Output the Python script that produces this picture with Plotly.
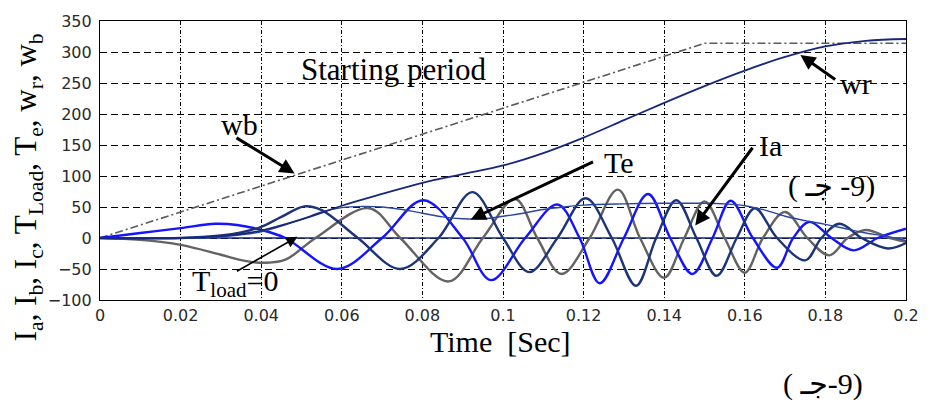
import plotly.graph_objects as go

# ---------------- data ----------------
x_ticks = [0, 0.02, 0.04, 0.06, 0.08, 0.1, 0.12, 0.14, 0.16, 0.18, 0.2]
x_tick_labels = ["0", "0.02", "0.04", "0.06", "0.08", "0.1", "0.12", "0.14", "0.16", "0.18", "0.2"]
y_ticks = [-100, -50, 0, 50, 100, 150, 200, 250, 300, 350]

# wb (reference speed, dash-dot gray)
wb_t = [0, 0.15, 0.2]
wb_v = [0, 314, 314]

# wr (rotor speed)
wr_t = [0, 0.02, 0.03, 0.04, 0.05, 0.06, 0.07, 0.08, 0.09, 0.1, 0.11, 0.12, 0.13,
        0.14, 0.15, 0.16, 0.17, 0.18, 0.19, 0.2]
wr_v = [0, 0, 3, 12, 30, 52, 71, 89, 103, 117, 137, 162, 190,
        218, 245, 270, 292, 309, 318, 321]

# Te (electromagnetic torque)
te_t = [0, 0.025, 0.03, 0.04, 0.05, 0.055, 0.06, 0.065, 0.07, 0.075, 0.08, 0.085,
        0.09, 0.095, 0.1, 0.105, 0.11, 0.115, 0.12, 0.13, 0.14, 0.15, 0.155, 0.16,
        0.165, 0.17, 0.175, 0.18, 0.185, 0.19, 0.195, 0.2]
te_v = [0, 0, 2, 10, 30, 42, 49, 51, 50, 46, 40, 34,
        31, 31, 35, 40, 46, 50, 53, 55, 56, 56, 55, 52,
        45, 35, 28, 22, 15, 8, 3, -4]

# Ia (bright blue)
ia_t = [0, 0.01, 0.02, 0.0286, 0.034, 0.04, 0.046, 0.0589, 0.07, 0.0802, 0.09, 0.097,
        0.1055, 0.1135, 0.119, 0.124, 0.13, 0.136, 0.1415, 0.147, 0.152, 0.1565,
        0.162, 0.168, 0.172, 0.176, 0.1815, 0.187, 0.193, 0.2]
ia_v = [0, 8, 16, 23, 21, 13, 0, -50, 0, 61, 0, -68,
        0, 54, 0, -73, 0, 71, 0, -58, 0, 60,
        0, -48, 0, 26, 0, -20, 0, 15]

# Ib (gray)
ib_t = [0, 0.01, 0.02, 0.03, 0.036, 0.041, 0.046, 0.0535, 0.0667, 0.0745, 0.0865,
        0.095, 0.103, 0.1085, 0.1145, 0.1215, 0.1285, 0.134, 0.14, 0.145, 0.15,
        0.155, 0.16, 0.1645, 0.17, 0.1755, 0.181, 0.1855, 0.19, 0.196, 0.2]
ib_v = [0, -3, -11, -27, -37, -40, -35, 0, 48, 0, -70,
        0, 63, 0, -58, 0, 78, 0, -64, 0, 59,
        0, -56, 0, 42, 0, -28, 0, 13, 0, -6]

# Ic (dark navy)
ic_t = [0, 0.02, 0.03, 0.035, 0.04, 0.045, 0.0507, 0.055, 0.064, 0.0745, 0.084,
        0.0924, 0.1, 0.1065, 0.1135, 0.1205, 0.127, 0.133, 0.138, 0.143, 0.148,
        0.153, 0.158, 0.1625, 0.168, 0.175, 0.179, 0.1835, 0.189, 0.1955, 0.2]
ic_v = [0, 0, 4, 9, 18, 34, 51, 45, 0, -50, 0,
        74, 0, -55, 0, 64, 0, -77, 0, 61, 0,
        -61, 0, 48, 0, -36, 0, 23, 0, -17, -8]

# Tload = 0
tl_t = [0, 0.2]
tl_v = [0, 0]

# ---------------- figure ----------------
fig = go.Figure()

def add_line(t, v, color, width, dash="solid", smooth=True, name=""):
    fig.add_trace(go.Scatter(
        x=t, y=v, mode="lines", name=name,
        line=dict(color=color, width=width, dash=dash,
                  shape="spline" if smooth else "linear",
                  smoothing=1.0 if smooth else None),
        hoverinfo="skip"))

add_line(wb_t, wb_v, "#5a5a5a", 1.6, dash="8px,3px,2px,3px", smooth=False, name="wb")
add_line(tl_t, tl_v, "#14246e", 1.6, smooth=False, name="Tload")
add_line(ib_t, ib_v, "#636363", 2.4, name="Ib")
add_line(ia_t, ia_v, "#1414ff", 2.4, name="Ia")
add_line(ic_t, ic_v, "#1c3478", 2.4, name="Ic")
add_line(te_t, te_v, "#2a47a0", 1.4, name="Te")
add_line(wr_t, wr_v, "#17287c", 1.8, name="wr")

serif = "Liberation Serif, Times New Roman, serif"
TXT = dict(family=serif, size=30, color="black")
# Arabic letter jeem followed by tatweel, displayed right-to-left (jeem on the right)
JEEM = "<span style=\"font-family:'DejaVu Sans'\">\u202E\u062C\u0640\u202C</span>"

annotations = []

def label(x, y, text, size=30, xanchor="center"):
    annotations.append(dict(x=x, y=y, xref="x", yref="y", text=text, showarrow=False,
                            font=dict(family=serif, size=size, color="black"),
                            xanchor=xanchor, yanchor="middle"))

def arrow(x0, y0, x1, y1, width=2.6, size=1.0):
    annotations.append(dict(x=x1, y=y1, ax=x0, ay=y0, xref="x", yref="y",
                            axref="x", ayref="y", text="", showarrow=True,
                            arrowhead=2, arrowsize=size, arrowwidth=width,
                            arrowcolor="black"))

label(0.0729, 272, "Starting period", size=31)
label(0.0345, 183, "wb")
arrow(0.0335, 163, 0.0483, 104, width=3.0, size=1.0)
label(0.1875, 250, "wr")
arrow(0.1828, 254, 0.1738, 295, width=3.0, size=1.0)
label(0.1288, 122, "Te")
arrow(0.1227, 124, 0.0920, 30, width=3.0, size=1.0)
label(0.1663, 150, "Ia")
arrow(0.1622, 148, 0.1477, 20, width=3.0, size=1.0)
label(0.1816, 84, "\u202D( " + JEEM + " -9)\u202C")
label(0.0336, -72, "T<sub>load</sub>=0")
arrow(0.0336, -55, 0.0490, 2, width=1.6, size=1.4)

# outside texts
annotations.append(dict(x=-0.089, y=0.405, xref="paper", yref="paper", textangle=-90,
                        text="I<sub>a</sub>, I<sub>b</sub>, I<sub>c</sub>, T<sub>Load</sub>, "
                             "T<sub>e</sub>, w<sub>r</sub>, w<sub>b</sub>",
                        showarrow=False, font=dict(family=serif, size=31, color="black"),
                        xanchor="center", yanchor="middle"))
annotations.append(dict(x=0.4975, y=-0.15, xref="paper", yref="paper",
                        text="Time  [Sec]", showarrow=False, font=TXT,
                        xanchor="center", yanchor="middle"))
annotations.append(dict(x=0.897, y=-0.301, xref="paper", yref="paper",
                        text="\u202D( " + JEEM + "-9)\u202C", showarrow=False, font=TXT,
                        xanchor="center", yanchor="middle"))

tickfont = dict(family="DejaVu Sans, sans-serif", size=16, color="#2a2a2a")

fig.update_layout(
    width=931, height=408,
    margin=dict(l=100, r=17, t=18, b=108),
    paper_bgcolor="white", plot_bgcolor="white",
    showlegend=False,
    annotations=annotations,
    xaxis=dict(range=[0, 0.2], tickvals=x_ticks, ticktext=x_tick_labels,
               showgrid=True, gridcolor="black", gridwidth=1, griddash="4px,2px,1px,2px",
               showline=True, linecolor="black", linewidth=1.2, mirror=True,
               zeroline=False, ticks="", tickfont=tickfont, ticklabelstandoff=1),
    yaxis=dict(range=[-100, 350], tickvals=y_ticks,
               showgrid=True, gridcolor="black", gridwidth=1, griddash="7px,4px",
               showline=True, linecolor="black", linewidth=1.2, mirror=True,
               zeroline=False, ticks="", tickfont=tickfont, ticklabelstandoff=4),
)

fig.write_html("out.html")
